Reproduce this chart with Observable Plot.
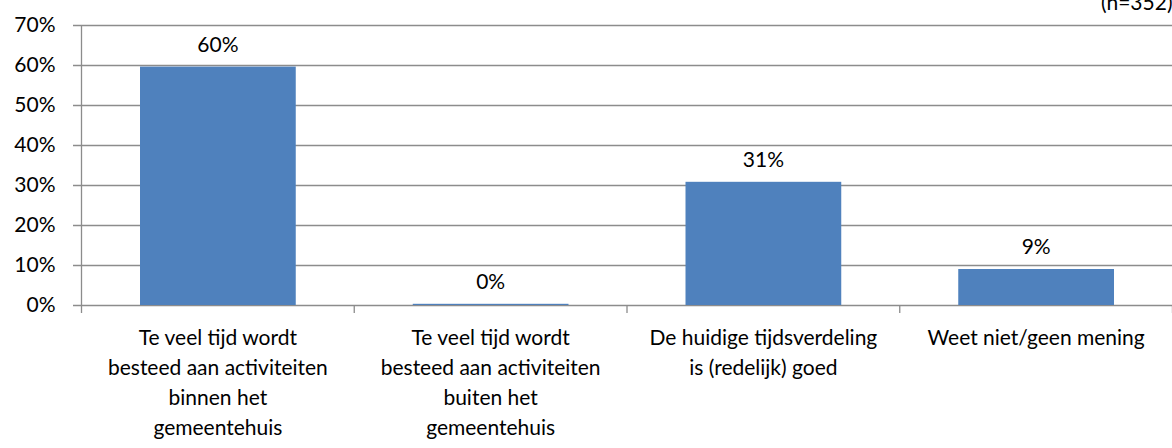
<!DOCTYPE html>
<html>
<head>
<meta charset="utf-8">
<script src="https://cdn.jsdelivr.net/npm/d3@7"></script>
<script src="https://cdn.jsdelivr.net/npm/@observablehq/plot@0.6"></script>
<style>
  html, body { margin: 0; padding: 0; background: #fff; overflow: hidden; }
  #wrap { position: relative; width: 1172px; height: 448px; overflow: hidden; }
  #note { position: absolute; left: 1101px; top: -11px; font: 21px Lato, sans-serif; line-height: 26px; color: #000; white-space: nowrap; }
</style>
</head>
<body>
<div id="wrap"><div id="chart"></div><div id="note"></div></div>
<script>
const categories = [
  "Te veel tijd wordt\nbesteed aan activiteiten\nbinnen het\ngemeentehuis",
  "Te veel tijd wordt\nbesteed aan activiteiten\nbuiten het\ngemeentehuis",
  "De huidige tijdsverdeling\nis (redelijk) goed",
  "Weet niet/geen mening"
];
const values = [59.6, 0.3, 30.8, 9.0];
const valueLabels = ["60%", "0%", "31%", "9%"];
const yTicks = [0, 10, 20, 30, 40, 50, 60, 70];
const note = "(n=352)";

document.getElementById("note").textContent = note;

const data = categories.map((c, i) => ({i, cat: c, value: values[i], label: valueLabels[i]}));
const gray = "#8c8c8c";
const fs = 21;

const chart = Plot.plot({
  width: 1172,
  height: 448,
  marginLeft: 81,
  marginRight: 0,
  marginTop: 25,
  marginBottom: 143,
  style: {fontFamily: "Lato, sans-serif", fontSize: fs + "px", color: "#000", background: "#fff"},
  x: {type: "linear", domain: [0, categories.length], axis: null},
  y: {domain: [0, 70], axis: null},
  marks: [
    Plot.ruleY(yTicks, {y: d => d, stroke: gray, strokeWidth: 1.3, insetLeft: -8}),
    Plot.axisY({ticks: yTicks, tickSize: 0, tickPadding: 26, tickFormat: d => d + "%", fontSize: fs, fill: "#000", label: null}),
    Plot.ruleX([0], {y1: 0, y2: 70, stroke: gray, strokeWidth: 1.3}),
    Plot.axisX({ticks: d3.range(categories.length + 1), tickSize: 8, tickFormat: () => "", stroke: gray, strokeWidth: 1.3, label: null}),
    Plot.rectY(data, {x1: d => d.i, x2: d => d.i + 1, y: "value", insetLeft: 59, insetRight: 58, fill: "#4f81bd"}),
    Plot.text(data, {x: d => d.i + 0.5, y: "value", text: "label", dy: -22, fontSize: fs, fill: "#000"}),
    Plot.text(data, {x: d => d.i + 0.5, y: 0, text: "cat", lineAnchor: "top", dy: 18, fontSize: fs, lineHeight: 1.43, fill: "#000"})
  ]
});
document.getElementById("chart").appendChild(chart);
</script>
</body>
</html>
